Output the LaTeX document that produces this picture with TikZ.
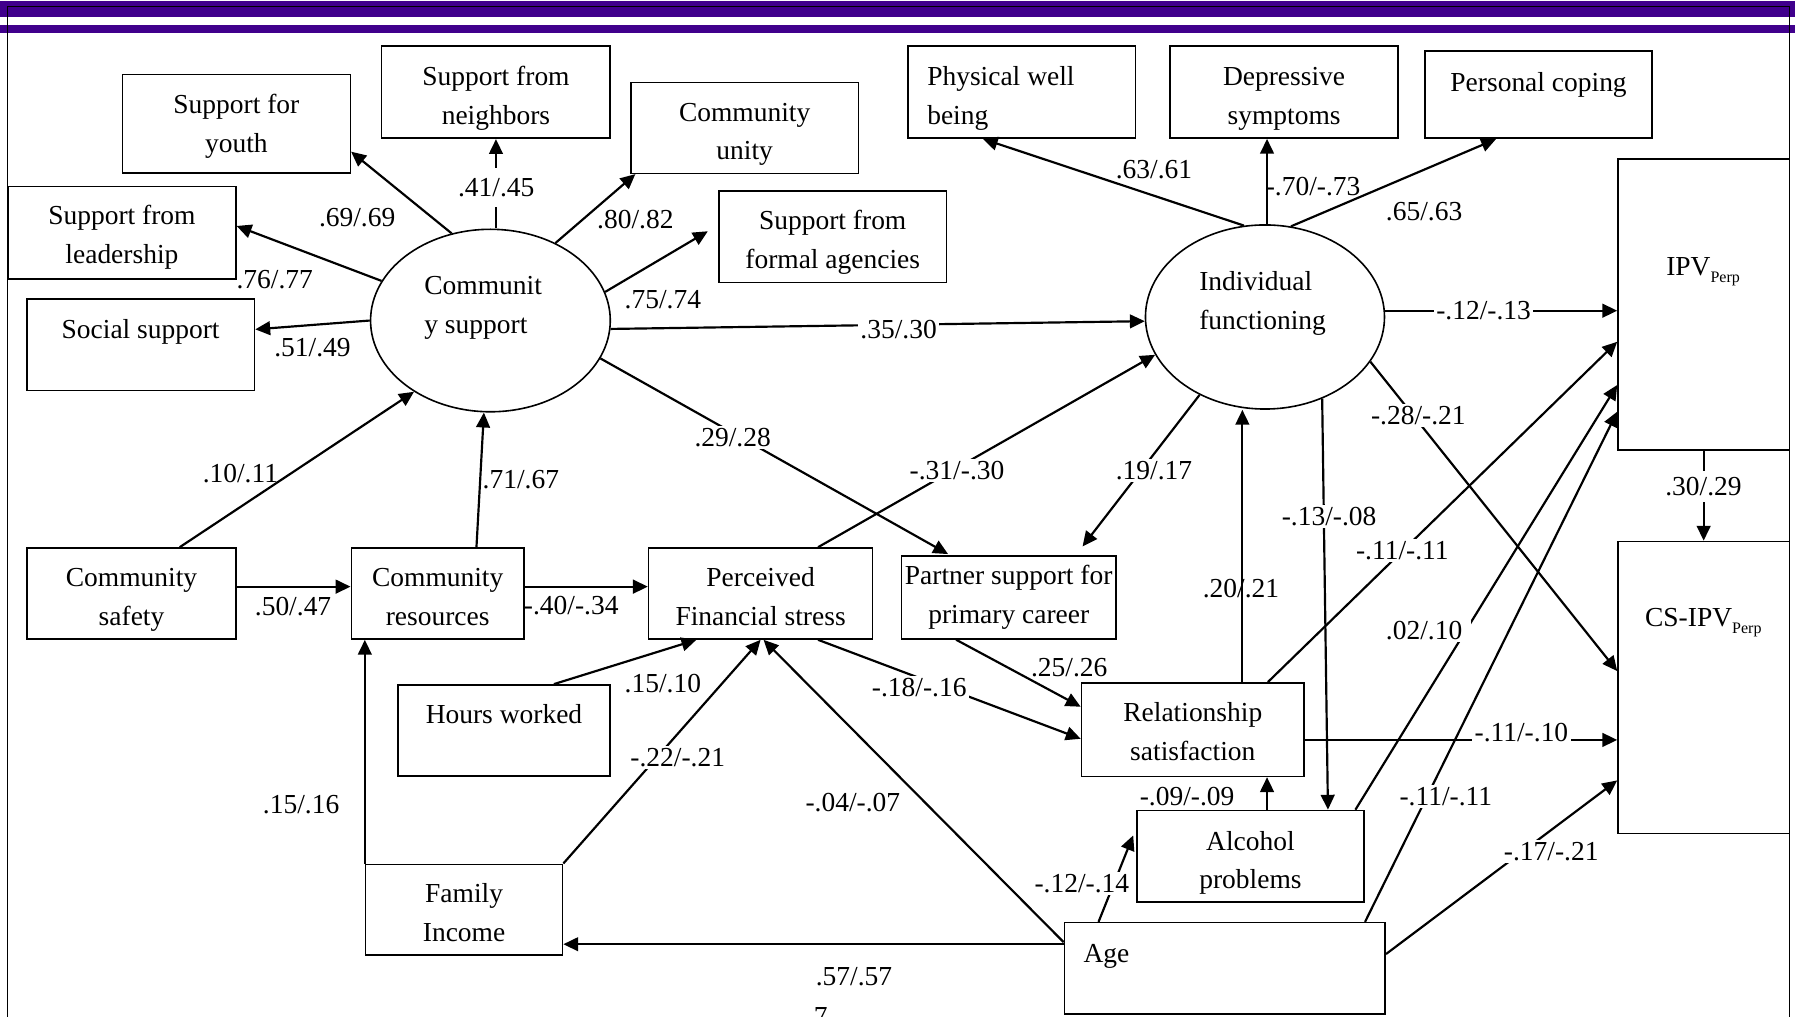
\documentclass[tikz,border=0pt]{standalone}
\usepackage{fontspec}
\setmainfont{Liberation Serif}
\usetikzlibrary{arrows.meta,shapes.geometric}
\definecolor{barpurple}{RGB}{64,0,140}
\newcommand\dfont{\fontsize{24}{34}\selectfont}
\newcommand\subperp{\raisebox{-5.8pt}{\fontsize{14}{14}\selectfont Perp}}
\newcommand\tx[3][28]{\rule{0pt}{#1pt}#2\\#3\rule[-6pt]{0pt}{0pt}}
\begin{document}
\begin{tikzpicture}[x=1pt,y=-1pt,
  box/.style={draw,line width=1.4pt,rectangle,inner sep=0pt,align=center,font=\dfont},
  ell/.style={draw,line width=1.4pt,ellipse,inner sep=0pt},
  txt/.style={inner sep=0pt,font=\dfont},
  arr/.style={line width=1.9pt,-{Triangle[length=13pt,width=12pt]}},
  lbl/.style={inner sep=1pt,font=\dfont},
  lblw/.style={lbl,fill=white,inner sep=2pt}]
\useasboundingbox (0,0) rectangle (1568,888);
\fill[barpurple] (0,0.9) rectangle (1568,14.8);
\fill[barpurple] (0,21.8) rectangle (1568,28.8);
\draw[line width=1.3pt] (6.5,900) -- (6.5,5.8) -- (1563,5.8) -- (1563,900);

% nodes
\node[box,minimum width=199pt,minimum height=86pt] (youth) at (206.5,108) {\tx[22]{Support for}{youth}};
\node[box,minimum width=199.7pt,minimum height=80.6pt] (neigh) at (433.25,80.5) {\tx{Support from}{neighbors}};
\node[box,minimum width=199pt,minimum height=79.4pt] (unity) at (650.5,111.7) {\tx{Community}{unity}};
\node[box,minimum width=198.8pt,minimum height=79.8pt] (formal) at (727.4,206.7) {\tx{Support from}{formal agencies}};
\node[box,minimum width=199pt,minimum height=80.7pt] (lead) at (106.5,203.4) {\tx[26]{Support from}{leadership}};
\node[box,minimum width=198.9pt,minimum height=80pt] (social) at (122.85,301) {};
\node[txt,anchor=base] (socialt) at (122.85,296) {Social support};
\node[ell,minimum width=209.4pt,minimum height=159.4pt] (cs) at (428.4,280) {};
\node[txt,align=left,anchor=west] (cst) at (370.5,269.2) {Communit\\y support};
\node[ell,minimum width=208.8pt,minimum height=160.8pt] (if) at (1105,276.9) {};
\node[txt,align=left,anchor=west] (ift) at (1047.4,265.25) {Individual\\functioning};
\node[box,minimum width=199pt,minimum height=80.4pt] (phys) at (892.5,80.4) {};
\node[txt,align=left,anchor=west] (physt) at (809.8,85.9) {Physical well\\being};
\node[box,minimum width=199.4pt,minimum height=80.4pt] (dep) at (1121.7,80.4) {\tx[29]{Depressive}{symptoms}};
\node[box,minimum width=198.2pt,minimum height=76.3pt] (pers) at (1343.8,82.65) {};
\node[txt,anchor=base] (perst) at (1344,79.6) {Personal coping};
\node[box,minimum width=149.6pt,minimum height=254pt] (ipv) at (1488.2,266) {};
\node[txt,anchor=base] (ipvt) at (1487.7,240.8) {IPV\subperp};
\node[box,minimum width=149.6pt,minimum height=255pt] (csipv) at (1488.2,600.5) {};
\node[txt,anchor=base] (csipvt) at (1487.9,547.6) {CS-IPV\subperp};
\node[box,minimum width=182.6pt,minimum height=79.5pt] (safety) at (114.9,518.45) {\tx{Community}{safety}};
\node[box,minimum width=150.9pt,minimum height=79.5pt] (res) at (382.35,518.45) {\tx{Community}{resources}};
\node[box,minimum width=195.6pt,minimum height=79.5pt] (perc) at (664.4,518.45) {\tx{Perceived}{Financial stress}};
\node[box,minimum width=187.1pt,minimum height=72.4pt] (partner) at (881.15,521.9) {\tx[18]{Partner support for}{primary career}};
\node[box,minimum width=185.5pt,minimum height=79.6pt] (hours) at (440.25,638.1) {};
\node[txt,anchor=base] (hourst) at (440.25,631.8) {Hours worked};
\node[box,minimum width=172pt,minimum height=79.4pt] (fam) at (405.4,794.7) {\tx{Family}{Income}};
\node[box,minimum width=194.5pt,minimum height=81.7pt] (rel) at (1041.95,637.35) {\tx[26]{Relationship}{satisfaction}};
\node[box,minimum width=198.4pt,minimum height=80.1pt] (alc) at (1092.3,748.05) {\tx[29]{Alcohol}{problems}};
\node[box,minimum width=280.2pt,minimum height=80pt] (age) at (1069.9,846) {};
\node[txt,anchor=base west] (aget) at (946.3,841) {Age};

% community support loadings
\draw[arr] (cs.114) -- ([yshift=-24.5]youth.east);
\draw[arr] (neigh.south |- cs.north) -- (neigh.south);
\draw[arr] (cs.50) -- ([xshift=4.7]unity.south west);
\draw[arr] (cs.14) -- ([xshift=-9,yshift=4.7]formal.west);
\draw[arr] (cs.160.5) -- ([yshift=6]lead.east);
\draw[arr] (cs.180) -- ([yshift=13.3]social.east);
\draw[arr] (cs.-4) -- (if.182);
\draw[arr] (cs.-19) -- ([xshift=-53,yshift=1]partner.north);
\draw[arr] ([xshift=42.1]safety.north) -- (cs.-137.6);
\draw[arr] ([xshift=33.85]res.north) -- ([xshift=-5.7]cs.south);

% individual functioning
\draw[arr] (if.103.3) -- ([xshift=-34]phys.south);
\draw[arr] ([xshift=1.8]if.north) -- ([xshift=-14.9]dep.south);
\draw[arr] (if.74.3) -- ([xshift=-37]pers.south);
\draw[arr] (if.3.3) -- (if.3.3 -| ipv.west);
\draw[arr] (if.-23.6) -- ([yshift=14.3]csipv.west);
\draw[arr] ([xshift=50.2]perc.north) -- (if.199.7);
\draw[arr] (if.-130.1) -- ([xshift=64.5,yshift=7.7]partner.north);
\coordinate (relT) at ([xshift=43.3]rel.north);
\draw[arr] (relT) -- (relT |- if.south);
\draw[arr] (if.-55.2) -- ([xshift=67.7]alc.north);

% other paths
\draw[arr] ([yshift=6]safety.east) -- ([yshift=6]res.west);
\draw[arr] ([yshift=6]res.east) -- ([yshift=6]perc.west);
\draw[arr] (fam.north west) -- (fam.north west |- res.south);
\draw[arr] ([xshift=43.6]hours.north) -- ([xshift=-56.1]perc.south);
\draw[arr] (fam.north east) -- (perc.south);
\draw[arr] ([yshift=23]age.west) -- ([xshift=2.6]perc.south);
\coordinate (ageL) at ([yshift=21.2]age.west);
\draw[arr] (ageL) -- (ageL -| fam.east);
\draw[arr] ([xshift=50.2]perc.south) -- ([yshift=-8]rel.west);
\draw[arr] ([xshift=-46]partner.south) -- ([yshift=20]rel.west);
\draw[arr] ([xshift=65.6]rel.north) -- ([yshift=-32.5]ipv.west);
\draw[arr] ([xshift=91.7]alc.north) -- ([yshift=-70.3]ipv.west);
\draw[arr] ([xshift=122.5]age.north) -- ([yshift=-93.6]ipv.west);
\coordinate (relR) at ([yshift=-9]rel.east);
\draw[arr] (relR) -- (relR -| csipv.west);
\draw[arr] ([yshift=12.6]age.east) -- ([yshift=-81.2]csipv.west);
\coordinate (alcT) at ([xshift=14.5]alc.north);
\draw[arr] (alcT) -- (alcT |- rel.south);
\draw[arr] ([xshift=-110.3]age.north) -- ([xshift=-2.5,yshift=18.3]alc.west);
\draw[arr] (ipv.south) -- (csipv.north);

% labels
\node[lbl] (l01) at (312,190) {.69/.69};
\node[lblw,inner ysep=9pt] (l02) at (433.5,164) {.41/.45};
\node[lbl] (l03) at (555,192) {.80/.82};
\node[lbl] (l04) at (240,244) {.76/.77};
\node[lbl] (l05) at (579,262) {.75/.74};
\node[lbl] (l06) at (273,304) {.51/.49};
\node[lblw] (l07) at (785,288) {.35/.30};
\node[lbl] (l08) at (1008,148) {.63/.61};
\node[lbl] (l09) at (1147,163) {-.70/-.73};
\node[lbl] (l10) at (1244,185) {.65/.63};
\node[lblw] (l11) at (1296,271) {-.12/-.13};
\node[lblw] (l12) at (1239,363) {-.28/-.21};
\node[lbl] (l13) at (210,414) {.10/.11};
\node[lbl] (l14) at (455,419) {.71/.67};
\node[lblw] (l15) at (640,382) {.29/.28};
\node[lblw] (l16) at (836,411) {-.31/-.30};
\node[lblw] (l17) at (1008,411) {.19/.17};
\node[lblw] (l18) at (1161,451) {-.13/-.08};
\node[lblw,inner ysep=5pt] (l19) at (1488,425) {.30/.29};
\node[lblw] (l20) at (1225,481) {-.11/-.11};
\node[lbl] (l21) at (1084,514) {.20/.21};
\node[lblw,inner xsep=8pt] (l22) at (1244,551) {.02/.10};
\node[lbl] (l23) at (256,530) {.50/.47};
\node[lbl] (l24) at (499,529) {-.40/-.34};
\node[lblw,inner ysep=8pt] (l25) at (579,597) {.15/.10};
\node[lbl] (l26) at (934,583) {.25/.26};
\node[lblw] (l27) at (803,601) {-.18/-.16};
\node[lblw] (l28) at (1329,640) {-.11/-.10};
\node[lbl] (l29) at (263,703) {.15/.16};
\node[lblw] (l30) at (592,662) {-.22/-.21};
\node[lbl] (l31) at (745,701) {-.04/-.07};
\node[lbl] (l32) at (1037,696) {-.09/-.09};
\node[lblw] (l33) at (1263,696) {-.11/-.11};
\node[lblw] (l34) at (1355,744) {-.17/-.21};
\node[lblw] (l35) at (945,772) {-.12/-.14};
\node[lbl] (l36) at (746,853) {.57/.57};
\node[lbl] (pg) at (717,888) {7};
\end{tikzpicture}
\end{document}
